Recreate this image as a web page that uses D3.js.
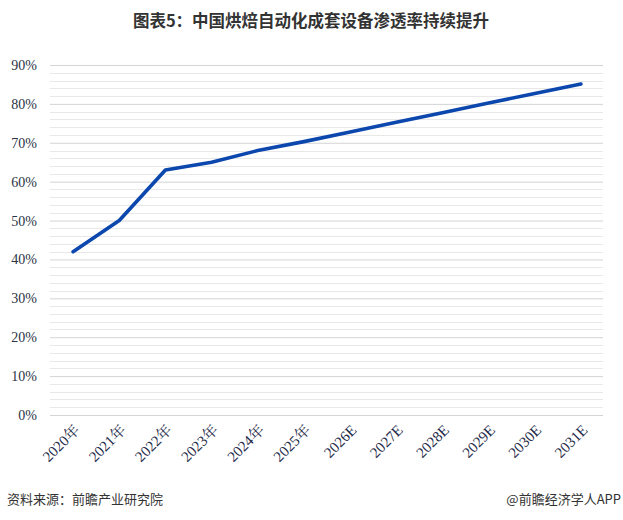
<!DOCTYPE html>
<html><head><meta charset="utf-8">
<script src="https://cdn.jsdelivr.net/npm/d3@7"></script>
<style>body{margin:0;background:#fff;}svg{display:block;}</style>
</head><body>
<script>
const categories = ["2020年","2021年","2022年","2023年","2024年","2025年","2026E","2027E","2028E","2029E","2030E","2031E"];
const values = [42.0, 50.0, 63.0, 65.0, 68.0, 70.3, 72.8, 75.3, 77.7, 80.2, 82.7, 85.1];
const yTicks = [0,10,20,30,40,50,60,70,80,90];
const minorTicks = d3.range(0, 91, 2);
const title = "图表5：中国烘焙自动化成套设备渗透率持续提升";
const source = "资料来源：前瞻产业研究院";
const credit = "@前瞻经济学人APP";

(function(){
const W = 623, H = 520;
const svg = d3.select("body").append("svg").attr("width", W).attr("height", H);
const mLeft = 50, mRight = 604, mTop = 65, mBottom = 415;

const x = d3.scalePoint().domain(categories).range([mLeft, mRight]).padding(0.5);
const y = d3.scaleLinear().domain([0, 90]).range([mBottom, mTop]);

svg.append("text").attr("x", 311).attr("y", 27).attr("text-anchor", "middle")
  .attr("font-family", "'Noto Sans CJK SC', sans-serif").attr("font-weight", "bold")
  .attr("font-size", 16.5).attr("fill", "#333").text(title);

// minor grid
svg.append("g").selectAll("line").data(minorTicks.filter(d => d % 10 !== 0)).join("line")
  .attr("x1", mLeft).attr("x2", mRight - 1).attr("y1", d => Math.round(y(d)) + 0.5).attr("y2", d => Math.round(y(d)) + 0.5)
  .attr("stroke", "#e8e8e8").attr("stroke-width", 1);
// major grid
const yAxis = d3.axisLeft(y).tickValues(yTicks).tickFormat(d => d + "%").tickSize(-(mRight - 1 - mLeft)).tickPadding(13);
const gy = svg.append("g").attr("transform", `translate(${mLeft},0)`).call(yAxis);
gy.attr("font-family", null);
gy.select(".domain").remove();
gy.selectAll(".tick line").attr("stroke", "#d4d4d4");
gy.selectAll(".tick text").style("font-family", "'Liberation Serif', serif").attr("font-size", 14).attr("fill", "#2b3344");

// x axis labels
const xAxis = d3.axisBottom(x).tickSize(0).tickPadding(0);
const gx = svg.append("g").attr("transform", `translate(0,${mBottom})`).call(xAxis);
gx.attr("font-family", null);
gx.select(".domain").remove();
gx.selectAll(".tick text")
  .style("font-family", "'Liberation Serif', 'Noto Serif CJK SC', 'Noto Sans CJK SC', serif").attr("font-size", 15).attr("fill", "#1f2b4a")
  .attr("text-anchor", "end").attr("dy", 0).attr("y", 0)
  .attr("transform", "translate(7,16) rotate(-45)");

// line
const line = d3.line().x((d, i) => x(categories[i])).y(d => y(d));
svg.append("path").datum(values).attr("d", line).attr("fill", "none")
  .attr("stroke", "#0b47ad").attr("stroke-width", 3.6).attr("stroke-linecap", "round").attr("stroke-linejoin", "round");

svg.append("text").attr("x", 7).attr("y", 504).attr("font-family", "'Noto Sans CJK SC', sans-serif")
  .attr("font-size", 13).attr("fill", "#333").text(source);
svg.append("text").attr("x", 621).attr("y", 504).attr("text-anchor", "end").attr("font-family", "'Noto Sans CJK SC', sans-serif")
  .attr("font-size", 13).attr("fill", "#333").text(credit);
})();
</script>
</body></html>
